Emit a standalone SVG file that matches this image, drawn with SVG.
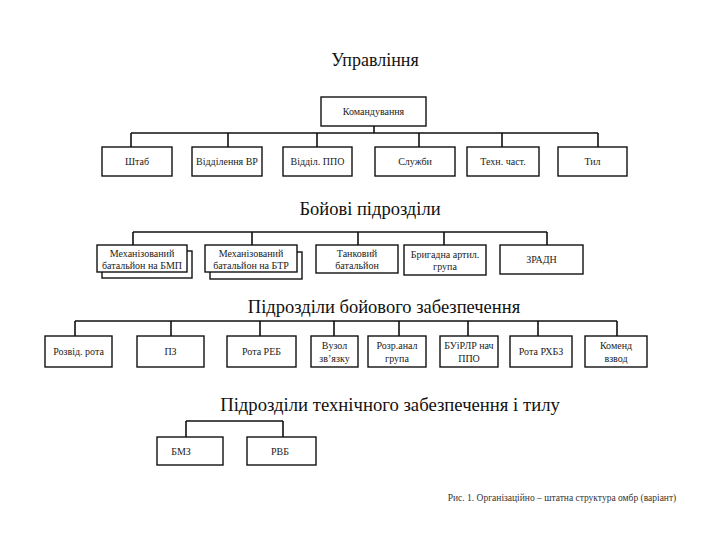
<svg xmlns="http://www.w3.org/2000/svg" width="720" height="540" viewBox="0 0 720 540">
<style>
.bg{fill:#fff}
.box{fill:#fff;stroke:#111;stroke-width:1.4}
.ln{fill:none;stroke:#111;stroke-width:1.6}
text{font-family:"Liberation Serif","DejaVu Serif","Noto Serif","Times New Roman",serif}
.title{fill:#111;text-anchor:middle}
.t{font-size:10px;fill:#222;text-anchor:middle}
.cap{font-size:9.5px;fill:#333;text-anchor:middle}
</style>
<rect class="bg" x="0" y="0" width="720" height="540"/>

<text class="title" x="375" y="66" font-size="18">Управління</text>
<text class="title" x="370" y="215" font-size="18.5">Бойові підрозділи</text>
<text class="title" x="384" y="313" font-size="18.5">Підрозділи бойового забезпечення</text>
<text class="title" x="390" y="411" font-size="18.7">Підрозділи технічного забезпечення і тилу</text>

<g id="connectors">
  <path class="ln" d="M374 126V133M131 133H598M131 133V147M228 133V147M317 133V147M419 133V147M502 133V147M598 133V147"/>
  <path class="ln" d="M133 232H547M133 232V245M252 232V245M358 232V245M444 232V245M547 232V245"/>
  <path class="ln" d="M75 321H617M75 321V336M171 321V336M260 321V336M334 321V336M399 321V336M468 321V336M538 321V336M617 321V336"/>
  <path class="ln" d="M186 421H283M186 421V437M283 421V437"/>
</g>

<g id="n-komanduvannia"><rect class="box" x="321" y="97" width="105" height="29"/><text class="t" x="373.5" y="115">Командування</text></g>

<g id="n-shtab"><rect class="box" x="102" y="147" width="70" height="29"/><text class="t" x="137" y="165">Штаб</text></g>
<g id="n-viddilennia-vr"><rect class="box" x="192" y="147" width="70" height="29"/><text class="t" x="227" y="165">Відділення ВР</text></g>
<g id="n-viddil-ppo"><rect class="box" x="283" y="147" width="69" height="29"/><text class="t" x="317.5" y="165">Відділ. ППО</text></g>
<g id="n-sluzhby"><rect class="box" x="375" y="147" width="80" height="29"/><text class="t" x="415" y="165">Служби</text></g>
<g id="n-tekhn-chast"><rect class="box" x="467" y="147" width="72" height="29"/><text class="t" x="503" y="165">Техн. част.</text></g>
<g id="n-tyl"><rect class="box" x="558" y="147" width="69" height="29"/><text class="t" x="592.5" y="165">Тил</text></g>

<g id="n-mb-bmp"><rect class="box" x="102" y="251" width="90" height="27"/><rect class="box" x="97" y="245" width="90" height="27"/><text class="t" x="142" y="257">Механізований</text><text class="t" x="142" y="269">батальйон на БМП</text></g>
<g id="n-mb-btr"><rect class="box" x="210" y="252" width="92" height="27"/><rect class="box" x="205" y="245" width="92" height="27"/><text class="t" x="251" y="257">Механізований</text><text class="t" x="251" y="269">батальйон на БТР</text></g>
<g id="n-tb"><rect class="box" x="316" y="245" width="82" height="28"/><text class="t" x="357" y="257">Танковий</text><text class="t" x="357" y="269">батальйон</text></g>
<g id="n-bag"><rect class="box" x="404" y="245" width="82" height="30"/><text class="t" x="445" y="258">Бригадна артил.</text><text class="t" x="445" y="270">група</text></g>
<g id="n-zradn"><rect class="box" x="500" y="245" width="83" height="29"/><text class="t" x="541.5" y="263">ЗРАДН</text></g>

<g id="n-rozvid-rota"><rect class="box" x="45" y="336" width="67" height="31"/><text class="t" x="78.5" y="355">Розвід. рота</text></g>
<g id="n-pz"><rect class="box" x="137" y="336" width="67" height="31"/><text class="t" x="170.5" y="355">ПЗ</text></g>
<g id="n-rota-reb"><rect class="box" x="227" y="336" width="69" height="31"/><text class="t" x="261.5" y="355">Рота РЕБ</text></g>
<g id="n-vuzol"><rect class="box" x="311" y="336" width="47" height="31"/><text class="t" x="334.5" y="349">Вузол</text><text class="t" x="334.5" y="362">зв’язку</text></g>
<g id="n-rozr"><rect class="box" x="368" y="336" width="58" height="31"/><text class="t" x="397" y="349">Розр.анал</text><text class="t" x="397" y="362">група</text></g>
<g id="n-buirlr"><rect class="box" x="440" y="336" width="58" height="31"/><text class="t" x="469" y="349">БУіРЛР нач</text><text class="t" x="469" y="362">ППО</text></g>
<g id="n-rota-rkhbz"><rect class="box" x="510" y="336" width="62" height="31"/><text class="t" x="541" y="355">Рота РХБЗ</text></g>
<g id="n-komend"><rect class="box" x="585" y="336" width="62" height="31"/><text class="t" x="616" y="349">Коменд</text><text class="t" x="616" y="362">взвод</text></g>

<g id="n-bmz"><rect class="box" x="157" y="437" width="66" height="28"/><text class="t" x="181" y="455">БМЗ</text></g>
<g id="n-rvb"><rect class="box" x="247" y="437" width="69" height="28"/><text class="t" x="280" y="455">РВБ</text></g>

<text class="cap" x="562" y="501">Рис. 1. Організаційно – штатна структура омбр (варіант)</text>
</svg>
